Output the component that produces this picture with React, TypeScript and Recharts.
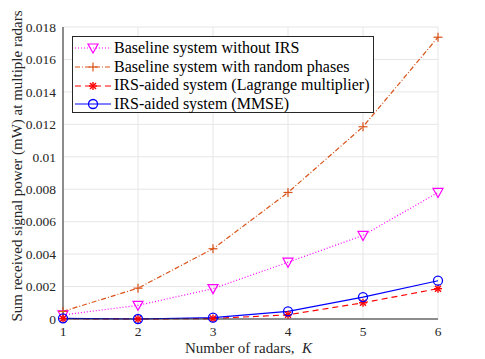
import { LineChart, Line, XAxis, YAxis, CartesianGrid, Label } from 'recharts';

// --- data ---
const radars = [1, 2, 3, 4, 5, 6];
const baselineNoIrs = [0.00025, 0.00084, 0.00187, 0.0035, 0.00515, 0.0078];
const baselineRandom = [0.00047, 0.0019, 0.00433, 0.0078, 0.01185, 0.01737];
const irsLagrange = [0.00002, 0.0, 0.00003, 0.00026, 0.001, 0.00187];
const irsMmse = [0.00004, 0.0, 0.00008, 0.00047, 0.00135, 0.00236];
const yTicks = [0, 0.002, 0.004, 0.006, 0.008, 0.01, 0.012, 0.014, 0.016, 0.018];
const xTicks = [1, 2, 3, 4, 5, 6];

const data = radars.map((k, i) => ({
  k,
  noIrs: baselineNoIrs[i],
  random: baselineRandom[i],
  lagrange: irsLagrange[i],
  mmse: irsMmse[i],
}));

const FONT = 'Liberation Serif, Times New Roman, Times, serif';
const TXT = '#262626';

const series = [
  { key: 'noIrs', name: 'Baseline system without IRS', color: '#FF00FF', dash: '1 2', marker: 'tri' },
  { key: 'random', name: 'Baseline system with random phases', color: '#D95319', dash: '5 2 1 2', marker: 'plus' },
  { key: 'lagrange', name: 'IRS-aided system (Lagrange multiplier)', color: '#FF0000', dash: '6 4', marker: 'star' },
  { key: 'mmse', name: 'IRS-aided system (MMSE)', color: '#0000FF', dash: undefined, marker: 'circle' },
];

function Marker({ cx, cy, type, color }: { cx: number; cy: number; type: string; color: string }) {
  if (cx == null || cy == null) return null;
  if (type === 'tri') {
    return <polygon points={`${cx - 5},${cy - 4} ${cx + 5},${cy - 4} ${cx},${cy + 5}`} fill="none" stroke={color} strokeWidth={1.2} />;
  }
  if (type === 'plus') {
    return (
      <g stroke={color} strokeWidth={1.2}>
        <line x1={cx - 4.5} y1={cy} x2={cx + 4.5} y2={cy} />
        <line x1={cx} y1={cy - 4.5} x2={cx} y2={cy + 4.5} />
      </g>
    );
  }
  if (type === 'star') {
    return (
      <g stroke={color} strokeWidth={1.4}>
        <line x1={cx - 4} y1={cy} x2={cx + 4} y2={cy} />
        <line x1={cx} y1={cy - 4} x2={cx} y2={cy + 4} />
        <line x1={cx - 3} y1={cy - 3} x2={cx + 3} y2={cy + 3} />
        <line x1={cx - 3} y1={cy + 3} x2={cx + 3} y2={cy - 3} />
      </g>
    );
  }
  return <circle cx={cx} cy={cy} r={4.5} fill="none" stroke={color} strokeWidth={1.3} />;
}

function LegendBox() {
  return (
    <div
      style={{
        position: 'absolute',
        left: 72,
        top: 36,
        height: 77,
        boxSizing: 'border-box',
        background: '#fff',
        border: '1px solid #262626',
        padding: '2px 4px 0 1px',
        fontFamily: FONT,
        fontSize: 16,
        color: '#000',
        lineHeight: '18.7px',
      }}
    >
      {series.map((s) => (
        <div key={s.key} style={{ display: 'flex', alignItems: 'center', whiteSpace: 'nowrap', height: 18.7 }}>
          <svg width={38} height={12} style={{ marginRight: 2, flex: 'none' }}>
            <line x1={1} y1={6} x2={37} y2={6} stroke={s.color} strokeWidth={1.2} strokeDasharray={s.dash} />
            <Marker cx={19} cy={6} type={s.marker} color={s.color} />
          </svg>
          <span>{s.name}</span>
        </div>
      ))}
    </div>
  );
}

export default function App() {
  return (
    <div style={{ position: 'absolute', left: 0, top: 0, width: 485, height: 359, background: '#fff' }}>
      <LineChart width={485} height={359} data={data} margin={{ top: 27, right: 47, bottom: 0, left: 8 }}>
        <CartesianGrid stroke="#E6E6E6" strokeWidth={1} />
        <XAxis
          dataKey="k"
          type="number"
          domain={[1, 6]}
          ticks={xTicks}
          height={40}
          stroke={TXT}
          tickLine={false}
          tickSize={0}
          tickMargin={7}
          tick={{ fill: TXT, fontFamily: FONT, fontSize: 13.5 }}
        >
          <Label
            content={(props: any) => {
              const vb = props.viewBox;
              return (
                <text x={vb.x + vb.width / 2 - 2} y={353} textAnchor="middle" fontFamily={FONT} fontSize={15} fill={TXT}>
                  Number of radars,{'\u00a0\u00a0'}
                  <tspan fontStyle="italic">K</tspan>
                </text>
              );
            }}
          />
        </XAxis>
        <XAxis xAxisId="top" orientation="top" dataKey="k" type="number" domain={[1, 6]} ticks={xTicks} height={0} stroke={TXT} tick={false} tickLine={false} />
        <YAxis
          type="number"
          domain={[0, 0.018]}
          ticks={yTicks}
          width={55}
          stroke={TXT}
          tickLine={false}
          tickSize={0}
          tickMargin={7}
          tickFormatter={(v: number) => String(Number(v.toFixed(3)))}
          tick={{ fill: TXT, fontFamily: FONT, fontSize: 13.5 }}
        >
          <Label
            content={() => (
              <text
                x={19}
                y={166}
                transform="rotate(-90 19 166)"
                textAnchor="middle"
                dominantBaseline="middle"
                fontFamily={FONT}
                fontSize={15}
                fill={TXT}
              >
                Sum received signal power (mW) at multiple radars
              </text>
            )}
          />
        </YAxis>
        <YAxis yAxisId="right" orientation="right" domain={[0, 0.018]} width={0} stroke={TXT} tick={false} tickLine={false} />
        {series.map((s) => (
          <Line
            key={s.key}
            dataKey={s.key}
            name={s.name}
            stroke={s.color}
            strokeWidth={1.2}
            strokeDasharray={s.dash}
            type="linear"
            isAnimationActive={false}
            dot={(p: any) => <Marker key={`${s.key}-${p.index}`} cx={p.cx} cy={p.cy} type={s.marker} color={s.color} />}
            activeDot={false}
          />
        ))}
      </LineChart>
      <LegendBox />
    </div>
  );
}
